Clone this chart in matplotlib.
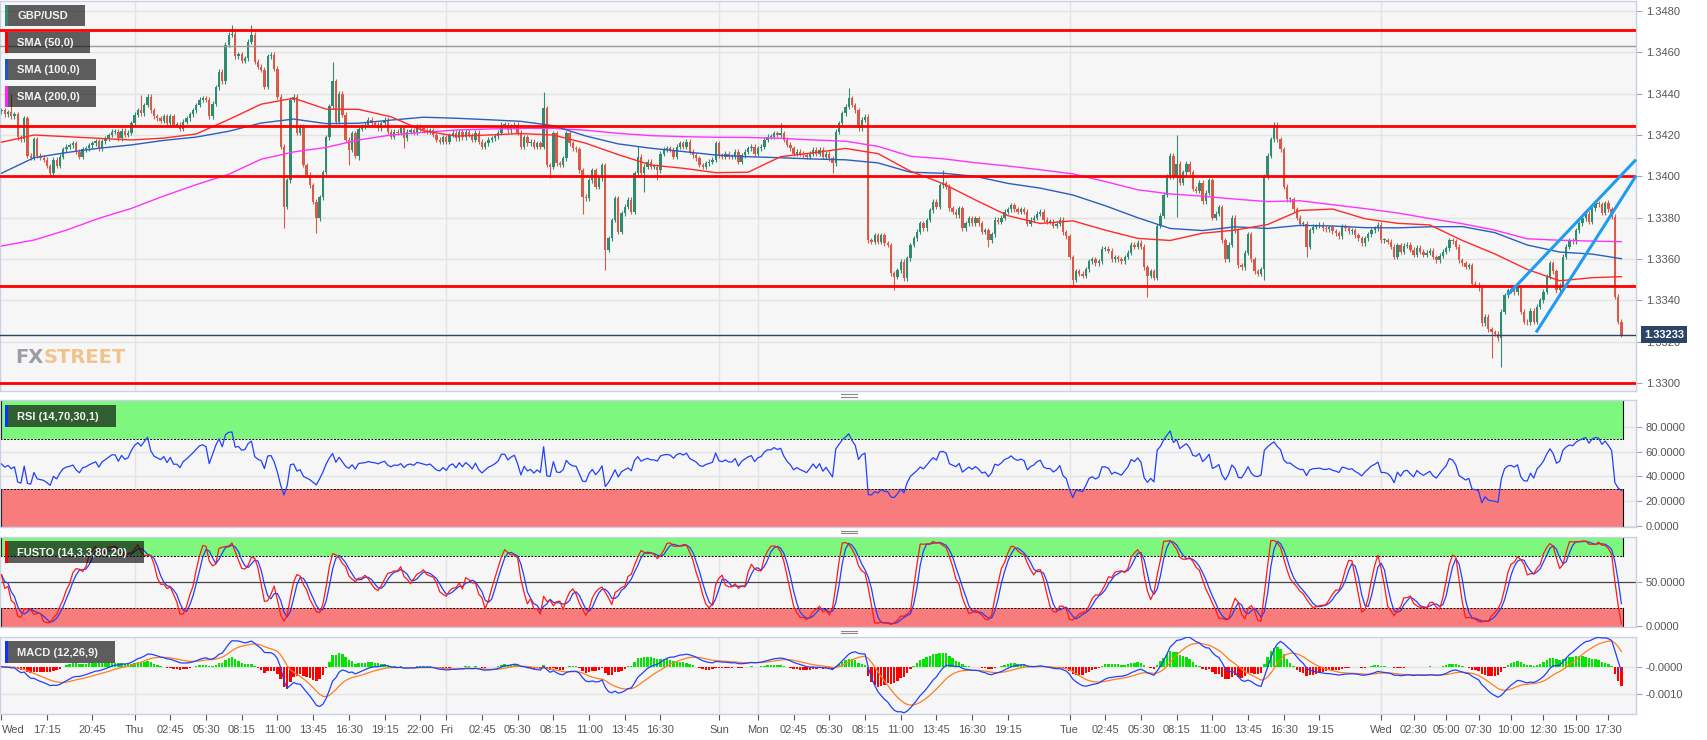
#!/usr/bin/env python3
"""
gbpusd_chart.py

GBP/USD 15-minute candles with SMA 50/100/200, drawn support/resistance levels and a
rising wedge, plus RSI(14), full stochastic (14,3,3) and MACD (12,26,9) panels.
"""

import numpy as np
import pandas as pd
import matplotlib
matplotlib.use("Agg")
import matplotlib.pyplot as plt
from matplotlib.patches import Rectangle
from matplotlib.lines import Line2D

plt.rcParams["font.family"] = ["Liberation Sans", "DejaVu Sans"]

# ----------------------------------------------------------------------
# DATA  (prices as pips above 1.3300, one close per 15-minute candle)
# ----------------------------------------------------------------------
BASE = 1.3300
PIP = 0.0001

CLOSES = [
    132, 130, 131, 129, 130, 119, 118, 128, 110, 109,
    118, 110, 109, 108, 105, 101.5, 108, 105, 109.5, 113,
    114.4, 115, 116, 112, 109.5, 113, 113.6, 115, 116, 117,
    113.6, 117, 118.4, 120, 121.6, 121.6, 118.4, 122, 120, 121,
    125.7, 129.7, 132, 130.5, 134.5, 138.6, 132, 129, 128, 127,
    129, 125.7, 129, 125, 125, 123, 126.5, 128, 130, 132,
    134.5, 137, 137.8, 137, 129, 135, 143, 150.7, 146, 163.6,
    168.4, 169, 158, 159, 156, 157, 165, 168.4, 155.5, 153,
    151.5, 143.4, 158, 158.7, 152, 138.6, 114.4, 85.3, 98, 137,
    138.6, 121, 124, 105.5, 100.7, 95.8, 87.8, 79.7, 90, 102,
    119, 134, 146, 126.5, 140, 129.7, 117.6, 112.8, 120.8, 110,
    123, 124, 125, 127.3, 125.7, 125, 123.2, 125.7, 127.3, 121.6,
    119.2, 121.6, 121, 123.2, 118.4, 121.6, 122.4, 121, 124, 123.2,
    122.4, 121.6, 122.4, 120, 117.6, 116.8, 119, 116.8, 120, 121,
    118.4, 121.6, 119, 121.6, 120, 117.6, 121, 116.8, 114.4, 116,
    117.6, 118.4, 119.5, 121, 125, 125, 122.4, 124, 125, 121,
    114.4, 119, 116, 116.8, 114.4, 116, 114.4, 133, 105.5, 104.7,
    120.8, 106.3, 105.5, 108.7, 120.8, 116, 113.6, 113, 103, 90.2,
    89.4, 98.2, 103, 95, 99, 105.5, 64.4, 70, 78.9, 89.4,
    73.2, 82.1, 85.3, 88.6, 82.9, 101.5, 109.5, 101.5, 104.7, 107,
    104.7, 104.7, 103, 111, 112.8, 113.6, 112.8, 109.5, 114.4, 116,
    114.4, 116.8, 112, 110.3, 108.7, 105.5, 104.7, 106.3, 107.1, 108,
    116, 110.3, 109.5, 111, 109.5, 109.5, 112, 107, 110.3, 112,
    113.6, 114.4, 111, 113.6, 114.4, 117.6, 119.2, 119.2, 120.8, 120,
    120.8, 117.6, 115.2, 113.6, 111, 112, 111, 110.3, 109.5, 111,
    112.8, 111, 112.8, 109.5, 111, 108.7, 106.3, 121.6, 125.7, 130.5,
    133.7, 137.8, 134.5, 132, 123.2, 127.3, 128.9, 69.2, 68.4, 71.6,
    68.4, 71.6, 67.6, 66.8, 53.1, 51.5, 54.7, 58.7, 50.7, 60.3,
    66.8, 70, 73.2, 77.3, 74.9, 78.9, 83.7, 87.8, 85.3, 95.8,
    96.6, 95, 84.5, 82.9, 81.3, 84.5, 74.9, 77.3, 79.7, 77.3,
    79.7, 77.3, 73.2, 74, 69.2, 72, 79, 78, 80, 83,
    84, 86, 84, 83, 84, 83, 77, 79, 80, 82,
    83, 79, 78, 78, 76, 77, 79, 73, 71, 61,
    50, 54, 53, 52, 55, 59, 60, 58, 59, 65,
    65, 64, 60, 61, 60, 59, 61, 63, 67, 66,
    68, 66, 56, 52, 54, 51, 76, 81, 91, 100,
    110, 100, 106, 97, 102, 106, 102, 94, 93, 97,
    88, 92, 98, 80, 82, 85, 69, 60, 67, 80,
    74, 57, 56, 63, 72, 60, 54, 53, 55, 100,
    110, 118, 125, 118, 113, 95, 89, 89, 84, 80,
    77, 77, 66, 74, 75.7, 76, 76.5, 75, 74.5, 75.5,
    73.5, 72.5, 71, 75.7, 74.9, 73.5, 74, 71.6, 70, 67.6,
    70, 72, 74, 75, 76.5, 69.2, 69.2, 68.4, 66, 61.1,
    66.8, 63.5, 66.5, 67, 64.4, 62, 65.5, 63.5, 62, 63,
    64, 61, 59.5, 61.5, 63.5, 65.2, 69.2, 68.5, 66, 59.5,
    58, 56.3, 57, 48, 47.5, 46, 29, 32, 26, 24.5,
    24, 21.6, 34.5, 42.6, 45, 45.5, 44, 45.8, 34.5, 29.7,
    29.5, 35, 29.7, 36.9, 40, 44.2, 51.5, 58, 54, 45,
    47, 61.1, 66, 69.2, 68.5, 74, 77.3, 79.7, 82, 78,
    84.5, 87, 86.5, 82.5, 87, 84, 80.5, 41.8, 29.7, 23.3,
]
FIRST_OPEN = 131.5
WICK = 1.2       # ordinary wick length in pips
RSI_SEED = 1.5   # starting Wilder average gain/loss in pips

# long wicks (candle index: pips)
HIGH_SPIKES = {3: 140, 43: 139.5, 71: 173, 77: 173, 102: 155.5, 167: 141, 196: 114.5,
               240: 125.7, 261: 142.6, 290: 103, 362: 120, 393: 125.7, 467: 46.6,
               491: 88.6, 495: 88.6}
LOW_SPIKES = {15: 100, 87: 75, 97: 72.5, 107: 105.5, 110: 108, 124: 113.6, 169: 99,
              179: 82, 186: 54.7, 198: 92.6, 202: 98.2, 256: 101.5, 275: 45, 304: 66,
              330: 47.4, 353: 41.8, 362: 80.5, 389: 50, 402: 61.1, 459: 12, 462: 8}

# moving averages read every 10 candles (pips)
SMA_IDX = list(range(0, 500, 10)) + [499]
SMA50 = [116.5, 120, 119.2, 118.4, 117.6, 118.5, 120.5, 127.5, 134.9, 137.8,
         132.5, 132.4, 128.8, 122, 119.5, 120, 120.7, 120, 116, 110.5,
         105.5, 103.9, 101.8, 102, 109.5, 111.4, 113.5, 111, 102.5, 96.5,
         88.6, 81, 77.2, 78.5, 74, 70, 69, 72.5, 74, 76.7,
         83.5, 84.2, 79.5, 77.3, 76.5, 69, 62.5, 55, 49.5, 51, 51.5]
SMA100 = [101.5, 109, 111.5, 113.6, 115.2, 117.4, 119, 121.8, 125.8, 127.7,
          125.5, 125.7, 127.2, 128.6, 128.1, 127.4, 126.6, 124.5, 119.5, 115.7,
          113.6, 112, 110.3, 109.5, 109, 108.4, 108, 106.5, 102, 101.5,
          100, 96.6, 94.3, 91, 85.8, 80, 74.8, 73.8, 75.6, 74.8,
          76.3, 76, 75.2, 75.1, 75.6, 75.7, 72.8, 66.8, 63.4, 62.4, 60.2]
SMA200 = [66.3, 69.2, 74, 79.7, 84.5, 90.5, 96, 101, 108.3, 111.8,
          114, 117.6, 120, 121.3, 122.4, 122.9, 123.2, 123.2, 122.3, 120.8,
          119.7, 119.2, 118.9, 118.8, 118.4, 117.6, 117, 114.5, 109.7, 108.5,
          106.6, 105, 103.2, 101.2, 97.5, 93.5, 91.5, 90.4, 89, 87.8,
          88.2, 86.3, 84.4, 82.3, 79.6, 77.1, 74, 69.8, 69.1, 68.7, 68.4]

RED_LEVELS = [1.3471, 1.34245, 1.3400, 1.3347, 1.3300]
GREY_LEVEL = 1.3463
LAST_PRICE = 1.33233

WEDGE_UPPER_X = [463.9, 503.5]
WEDGE_UPPER_Y = [1.33426, 1.34081]
WEDGE_LOWER_X = [472.7, 503.5]
WEDGE_LOWER_Y = [1.33245, 1.34002]

TICK_IDX = [0, 14, 28, 41, 52, 63, 74, 85, 96, 107, 118, 129, 137, 148, 159, 170, 181,
            192, 203, 221, 233, 244, 255, 266, 277, 288, 299, 310, 329, 340, 351, 362,
            373, 384, 395, 406, 425, 435, 445, 455, 465, 475, 485, 495]
TICK_LABELS = ["Wed", "17:15", "20:45", "Thu", "02:45", "05:30", "08:15", "11:00",
               "13:45", "16:30", "19:15", "22:00", "Fri", "02:45", "05:30", "08:15",
               "11:00", "13:45", "16:30", "Sun", "Mon", "02:45", "05:30", "08:15",
               "11:00", "13:45", "16:30", "19:15", "Tue", "02:45", "05:30", "08:15",
               "11:00", "13:45", "16:30", "19:15", "Wed", "02:30", "05:00", "07:30",
               "10:00", "12:30", "15:00", "17:30"]
DAY_IDX = [41, 137, 221, 233, 329, 425]

# ----------------------------------------------------------------------
# SETTINGS
# ----------------------------------------------------------------------
W, H = 1707, 740
PLOT_W = 1636
X_LEFT, X_RIGHT = -0.46, 503.5
UP, DOWN = "#2f8c70", "#d85a48"
GRID = "#e3e3e3"
PANEL_BG = "#f6f6f6"
WM_FONT = ["Liberation Sans Narrow", "DejaVu Sans"]


def fx(px):
    return px / W


def fy(py):
    return 1 - py / H


# ----------------------------------------------------------------------
# INDICATORS
# ----------------------------------------------------------------------
def build_ohlc():
    c = BASE + np.array(CLOSES) * PIP
    o = np.r_[BASE + FIRST_OPEN * PIP, c[:-1]]
    hi = np.maximum(o, c) + WICK * PIP
    lo = np.minimum(o, c) - WICK * PIP
    for i, v in HIGH_SPIKES.items():
        hi[i] = max(hi[i], BASE + v * PIP)
    for i, v in LOW_SPIKES.items():
        lo[i] = min(lo[i], BASE + v * PIP)
    return o, hi, lo, c


def wilder_rsi(c, n=14):
    delta = np.diff(c, prepend=c[0])
    ag = al = RSI_SEED * PIP
    out = []
    for dlt in delta:
        ag = (ag * (n - 1) + max(dlt, 0)) / n
        al = (al * (n - 1) + max(-dlt, 0)) / n
        out.append(100 - 100 / (1 + ag / al))
    return np.array(out)


def indicators(hi, lo, c):
    s = pd.Series(c)
    rsi = wilder_rsi(c)

    hh = pd.Series(hi).rolling(14, min_periods=1).max()
    ll = pd.Series(lo).rolling(14, min_periods=1).min()
    raw = 100 * (s - ll) / (hh - ll)
    k = raw.rolling(3, min_periods=1).mean()
    d = k.rolling(3, min_periods=1).mean()

    macd = s.ewm(span=12, adjust=False).mean() - s.ewm(span=26, adjust=False).mean()
    sig = macd.ewm(span=9, adjust=False).mean()
    return rsi, k, d, macd, sig, macd - sig


# ----------------------------------------------------------------------
# LAYOUT
# ----------------------------------------------------------------------
def add_panel(fig, top, bottom):
    ax = fig.add_axes([0, fy(bottom), PLOT_W / W, (bottom - top) / H])
    ax.set_facecolor(PANEL_BG)
    for sp in ax.spines.values():
        sp.set_color("#c9d1e3")
        sp.set_linewidth(1)
    ax.yaxis.tick_right()
    ax.tick_params(axis="y", length=4, width=0.8, color="#9aa4b8", labelsize=8,
                   labelcolor="#555555", pad=3)
    ax.tick_params(axis="x", bottom=False, labelbottom=False)
    ax.set_xlim(X_LEFT, X_RIGHT)
    for d in DAY_IDX:
        ax.axvline(d, color=GRID, lw=1, zorder=0)
    ax.grid(axis="y", color=GRID, lw=1)
    ax.set_axisbelow(True)
    return ax


def label_box(fig, x0, y0, x1, y1, text, marker):
    fig.patches.append(Rectangle((fx(x0), fy(y1)), fx(x1 - x0), (y1 - y0) / H,
                                 transform=fig.transFigure, facecolor="black",
                                 alpha=0.62, edgecolor="none", zorder=10))
    fig.patches.append(Rectangle((fx(x0), fy(y1)), fx(2.5), (y1 - y0) / H,
                                 transform=fig.transFigure, facecolor=marker,
                                 edgecolor="none", zorder=11))
    fig.text(fx(x0 + 12), fy((y0 + y1) / 2 + 0.5), text, color="#f2f2f2", fontsize=8,
             fontweight="bold", va="center", ha="left", zorder=12)


def band(ax, y0, y1, color):
    ax.add_patch(Rectangle((X_LEFT, y0), 499.5 - X_LEFT, y1 - y0, facecolor=color,
                           edgecolor="none", zorder=1))
    ax.plot([499.5, 499.5], [y0, y1], color="black", lw=0.8, zorder=2)
    ax.plot([X_LEFT + 0.3, X_LEFT + 0.3], [y0, y1], color="black", lw=0.8, zorder=2)


def watermark(fig, left=15, centre_y=358, width=110):
    # fit "FX" + "STREET" into the given pixel width, whatever font is found
    r = fig.canvas.get_renderer()
    t1 = fig.text(fx(left), fy(centre_y), "FX", color="#9b9ca4", fontsize=20,
                  fontweight="bold", family=WM_FONT, va="center", ha="left")
    t2 = fig.text(fx(left), fy(centre_y), "STREET", color="#f1c38a", fontsize=20,
                  fontweight="bold", family=WM_FONT, va="center", ha="left")
    total = t1.get_window_extent(r).width + t2.get_window_extent(r).width
    size = 20 * width / total
    t1.set_fontsize(size)
    t2.set_fontsize(size)
    t2.set_x(fx(left + t1.get_window_extent(r).width))


def main():
    o, hi, lo, c = build_ohlc()
    x = np.arange(len(c))
    rsi, k, d, macd, sig, hist = indicators(hi, lo, c)

    fig = plt.figure(figsize=(W / 100, H / 100), dpi=100, facecolor="white")

    # --- price panel
    ax = add_panel(fig, 1, 391)
    ax.set_ylim(1.32962, 1.34848)
    ax.set_yticks(np.arange(1.3300, 1.3481, 0.002))
    ax.yaxis.set_major_formatter(plt.FuncFormatter(lambda v, p: f"{v:.4f}"))
    up = c >= o
    colors = np.where(up, UP, DOWN)
    ax.vlines(x, lo, hi, colors=colors, lw=0.8, zorder=2)
    body = np.maximum(np.abs(c - o), 0.3 * PIP)
    ax.bar(x, body, bottom=np.minimum(o, c), width=0.72, color=colors, lw=0, zorder=2)

    sx = np.array(SMA_IDX)
    ax.plot(sx, BASE + np.array(SMA200) * PIP, color="#ff33ff", lw=1, zorder=3)
    ax.plot(sx, BASE + np.array(SMA100) * PIP, color="#2a5fbf", lw=1, zorder=3)
    ax.plot(sx, BASE + np.array(SMA50) * PIP, color="#ff2a2a", lw=1, zorder=3)

    for lvl in RED_LEVELS:
        ax.axhline(lvl, color="#ff0000", lw=2, zorder=4)
    ax.axhline(GREY_LEVEL, color="#999999", lw=1, zorder=4)
    ax.axhline(LAST_PRICE, color="#2e4466", lw=1, zorder=4)
    ax.plot(WEDGE_UPPER_X, WEDGE_UPPER_Y, color="#1f9cf0", lw=2.2, zorder=5,
            solid_capstyle="butt", clip_on=False)
    ax.plot(WEDGE_LOWER_X, WEDGE_LOWER_Y, color="#1f9cf0", lw=2.2, zorder=5,
            solid_capstyle="butt", clip_on=False)

    # --- RSI panel
    ax_rsi = add_panel(fig, 400, 527)
    ax_rsi.set_ylim(-0.8, 101.5)
    ax_rsi.set_yticks([0, 20, 40, 60, 80])
    ax_rsi.yaxis.set_major_formatter(plt.FuncFormatter(lambda v, p: f"{v:.4f}"))
    band(ax_rsi, 70, 101.5, "#7df77d")
    band(ax_rsi, -0.8, 30, "#f87c7c")
    ax_rsi.hlines([70, 30], X_LEFT, 499.5, colors="black", lw=0.7, linestyles=(0, (2, 1.5)),
                  zorder=2)
    ax_rsi.plot(x, rsi, color="#2140ff", lw=0.9, zorder=3)

    # --- stochastic panel
    ax_sto = add_panel(fig, 537, 627)
    ax_sto.set_ylim(-1.5, 102.2)
    ax_sto.set_yticks([0, 50])
    ax_sto.yaxis.set_major_formatter(plt.FuncFormatter(lambda v, p: f"{v:.4f}"))
    ax_sto.grid(False)
    band(ax_sto, 80, 102.2, "#7df77d")
    band(ax_sto, -1.5, 20, "#f87c7c")
    ax_sto.hlines([80, 20], X_LEFT, 499.5, colors="black", lw=0.7, linestyles=(0, (2, 1.5)),
                  zorder=2)
    ax_sto.axhline(50, color="#444444", lw=0.9, zorder=2)
    ax_sto.plot(x, d, color="#2140ff", lw=0.9, zorder=3)
    ax_sto.plot(x, k, color="#ff1a1a", lw=0.9, zorder=3)

    # --- MACD panel
    ax_m = add_panel(fig, 637, 714)
    ax_m.set_ylim(-0.001733, 0.001088)
    ax_m.set_yticks([0, -0.001])
    ax_m.set_yticklabels(["-0.0000", "-0.0010"])
    hcol = np.where(hist.values >= 0, "#00e600", "#ff0000")
    ax_m.bar(x, hist.values, width=0.75, color=hcol, lw=0, zorder=2)
    ax_m.plot(x, sig, color="#ff7f1e", lw=0.9, zorder=3)
    ax_m.plot(x, macd, color="#2140ff", lw=0.9, zorder=3)
    ax_m.set_xticks(TICK_IDX)
    ax_m.set_xticklabels(TICK_LABELS)
    ax_m.tick_params(axis="x", bottom=True, labelbottom=True, length=4, width=0.8,
                     color="#555555", labelsize=8, labelcolor="#555555", pad=4)
    ax_m.get_xticklabels()[0].set_horizontalalignment("left")

    # --- legend boxes
    label_box(fig, 5, 5, 85, 26, "GBP/USD", "#2f8c70")
    label_box(fig, 5, 32, 90, 53, "SMA (50,0)", "#ff0000")
    label_box(fig, 5, 59, 96, 80, "SMA (100,0)", "#1f55c0")
    label_box(fig, 5, 86, 96, 107, "SMA (200,0)", "#ff22ff")
    label_box(fig, 5, 405, 116, 427, "RSI (14,70,30,1)", "#1030ff")
    label_box(fig, 5, 541, 144, 563, "FUSTO (14,3,3,80,20)", "#ff0000")
    label_box(fig, 5, 641, 115, 663, "MACD (12,26,9)", "#1030ff")

    watermark(fig)

    # last price tag
    fig.text(fx(1644), fy(334.5), f"{LAST_PRICE:.5f}", color="white", fontsize=8,
             fontweight="bold", va="center", ha="left", zorder=20,
             bbox=dict(boxstyle="square,pad=0.28", fc="#2b4468", ec="none"))

    # panel grips
    for gy in (395.5, 532, 632):
        for dy in (-1.2, 1.2):
            fig.add_artist(Line2D([fx(841), fx(857)], [fy(gy + dy), fy(gy + dy)],
                                  color="#888888", lw=0.8))

    fig.savefig("out.png", dpi=100, facecolor="white")


if __name__ == "__main__":
    main()
